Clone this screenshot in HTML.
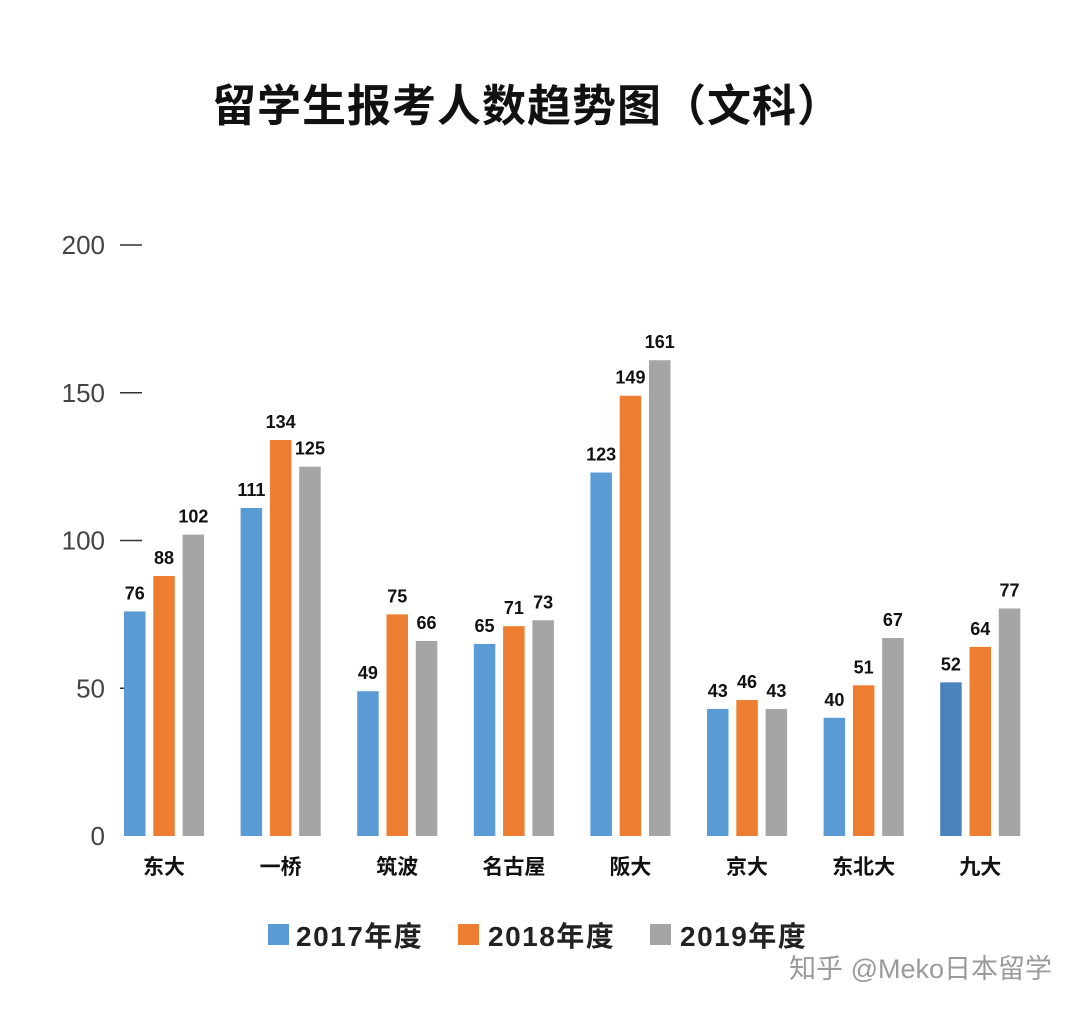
<!DOCTYPE html>
<html><head><meta charset="utf-8">
<style>
body{margin:0;background:#fff;}
svg{display:block;}
</style></head>
<body>
<svg width="1080" height="1014" viewBox="0 0 1080 1014">
<rect width="1080" height="1014" fill="#fff"/>
<text x="527" y="121" text-anchor="middle" font-family="'Liberation Sans','Noto Sans CJK SC',sans-serif" font-weight="bold" font-size="44" letter-spacing="1" fill="#111">留学生报考人数趋势图（文科）</text>
<g id="axis"></g>
<g id="bars"></g>
<g id="legend" font-family="'Liberation Sans','Noto Sans CJK SC',sans-serif" font-weight="bold" font-size="28" letter-spacing="1.5" fill="#222">
<rect x="268" y="924" width="21" height="21" fill="#5b9bd5"/>
<text x="296" y="946">2017年度</text>
<rect x="458" y="924" width="21" height="21" fill="#ed7d31"/>
<text x="488" y="946">2018年度</text>
<rect x="650" y="924" width="21" height="21" fill="#a5a5a5"/>
<text x="680" y="946">2019年度</text>
</g>
<text x="1052" y="978" text-anchor="end" font-family="'Liberation Sans','Noto Sans CJK SC',sans-serif" font-size="27" fill="#9a9a9a">知乎 @Meko日本留学</text>
</svg>
<script>
const categories=["东大","一桥","筑波","名古屋","阪大","京大","东北大","九大"];
const s2017=[76,111,49,65,123,43,40,52];
const s2018=[88,134,75,71,149,46,51,64];
const s2019=[102,125,66,73,161,43,67,77];
const ticks=[0,50,100,150,200];
const seriesNames=["2017","2018","2019"];
const colors=["#5b9bd5","#ed7d31","#a5a5a5"];
const NS="http://www.w3.org/2000/svg";
const y0=836, y200=245;
function yScale(v){return y0-(y0-y200)*v/200;}
function xScale(i,s){return 124+i*116.6+s*29.3;}
const bw=21.5;
function mk(tag,attrs,parent){const e=document.createElementNS(NS,tag);for(const k in attrs)e.setAttribute(k,attrs[k]);parent.appendChild(e);return e;}
const axis=document.getElementById('axis');
ticks.forEach(t=>{
  const y=yScale(t);
  const tx=mk('text',{x:105,y:y+9,'text-anchor':'end','font-family':"'Liberation Sans',sans-serif",'font-size':26,fill:'#444'},axis);
  tx.textContent=t;
  
  
  if(t>0){
    const l=mk('line',{x1:120,x2:142,y1:y,y2:y,stroke:'#333','stroke-width':1.5},axis);
    
    
  }
});
const bars=document.getElementById('bars');
const series=[s2017,s2018,s2019];
categories.forEach((c,i)=>{
  series.forEach((arr,s)=>{
    const x=xScale(i,s), y=yScale(arr[i]);
    const fill=(i===7&&s===0)?'#4a84bd':colors[s];
    const r=mk('rect',{x:x,y:y,width:bw,height:y0-y,fill:fill},bars);
    
    
    const lb=mk('text',{x:x+bw/2,y:y-12,'text-anchor':'middle','font-family':"'Liberation Sans',sans-serif",'font-weight':'bold','font-size':18,fill:'#111'},bars);
    lb.textContent=arr[i];
    
    
  });
  const cl=mk('text',{x:xScale(i,1)+bw/2,y:874,'text-anchor':'middle','font-family':"'Liberation Sans','Noto Sans CJK SC',sans-serif",'font-weight':'bold','font-size':21,fill:'#111'},bars);
  cl.textContent=c;
  
  
});
</script>
</body></html>
